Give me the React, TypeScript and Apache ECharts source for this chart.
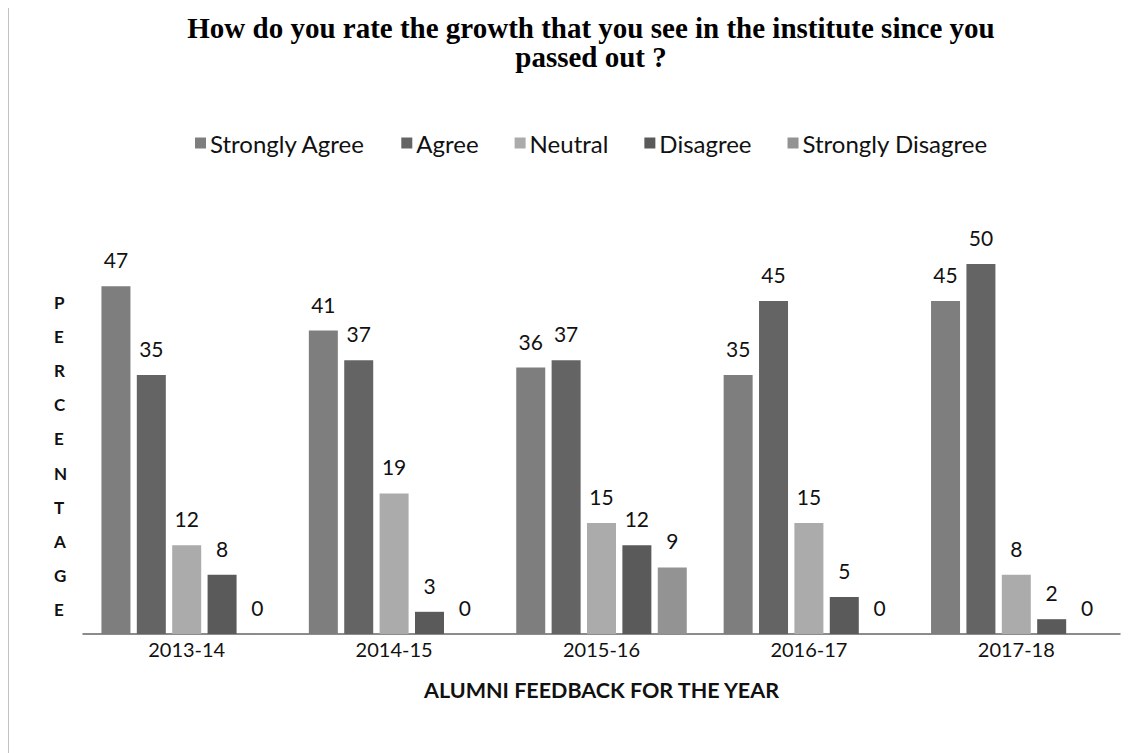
import React, { useEffect, useRef } from "react";
import * as echarts from "echarts";

const years = ["2013-14", "2014-15", "2015-16", "2016-17", "2017-18"];
const stronglyAgree = [47, 41, 36, 35, 45];
const agree = [35, 37, 37, 45, 50];
const neutral = [12, 19, 15, 15, 8];
const disagree = [8, 3, 12, 5, 2];
const stronglyDisagree = [0, 0, 9, 0, 0];

const seriesNames = ["Strongly Agree", "Agree", "Neutral", "Disagree", "Strongly Disagree"];
const seriesData = [stronglyAgree, agree, neutral, disagree, stronglyDisagree];
const seriesColors = ["#7e7e7e", "#646464", "#ababab", "#5a5a5a", "#939393"];

export default function App() {
  const ref = useRef<HTMLDivElement>(null);
  useEffect(() => {
    if (!ref.current) return;
    const chart = echarts.init(ref.current, null, { renderer: "svg" });
    const labelFont = "Lato, 'Open Sans', sans-serif";
    chart.setOption({
      animation: false,
      backgroundColor: "#ffffff",
      title: {
        text: "How do you rate the growth that you see in the institute since you\npassed out ?",
        left: 586,
        textAlign: "center",
        top: 8,
        textStyle: {
          fontFamily: "'Liberation Serif', 'Times New Roman', serif",
          fontWeight: "bold",
          fontSize: 29,
          lineHeight: 29,
          color: "#000",
        },
      },
      legend: {
        top: 126,
        left: 190,
        itemWidth: 11,
        itemHeight: 11,
        itemGap: 36,
        icon: "rect",
        textStyle: { fontFamily: labelFont, fontSize: 24, color: "#111", padding: [0, 0, 0, -1] },
        data: seriesNames,
      },
      grid: { left: 83, right: 20, top: 190, bottom: 119 },
      xAxis: {
        type: "category",
        data: years,
        axisTick: { show: false },
        axisLine: { lineStyle: { color: "#666", width: 1.5 } },
        axisLabel: { fontFamily: labelFont, fontSize: 20, color: "#111", margin: 5 },
        name: "ALUMNI FEEDBACK FOR THE YEAR",
        nameLocation: "middle",
        nameGap: 45,
        nameTextStyle: { fontFamily: labelFont, fontSize: 21.5, fontWeight: "bold", color: "#111" },
      },
      yAxis: {
        type: "value",
        min: 0,
        max: 60,
        show: false,
        splitLine: { show: false },
      },
      graphic: [
        {
          type: "rect",
          shape: { x: 8, y: 4, width: 1130, height: 760 },
          style: { fill: "none", stroke: "#999", lineWidth: 1.2 },
          silent: true,
        },
        {
          type: "text",
          left: 54,
          top: 285,
          style: {
            text: "P\nE\nR\nC\nE\nN\nT\nA\nG\nE",
            fontFamily: labelFont,
            fontWeight: "bold",
            fontSize: 17,
            lineHeight: 34.2,
            fill: "#111",
            align: "center",
          },
        },
      ],
      series: seriesNames.map((name, i) => ({
        name,
        type: "bar",
        data: seriesData[i],
        barWidth: 29,
        barGap: "22%",
        itemStyle: { color: seriesColors[i] },
        label: {
          show: true,
          position: "top",
          distance: 16,
          fontFamily: labelFont,
          fontSize: 21,
          color: "#111",
        },
      })),
    });
    return () => chart.dispose();
  }, []);
  return <div ref={ref} style={{ width: 1140, height: 753, marginLeft: -8, marginTop: -8 }} />;
}
